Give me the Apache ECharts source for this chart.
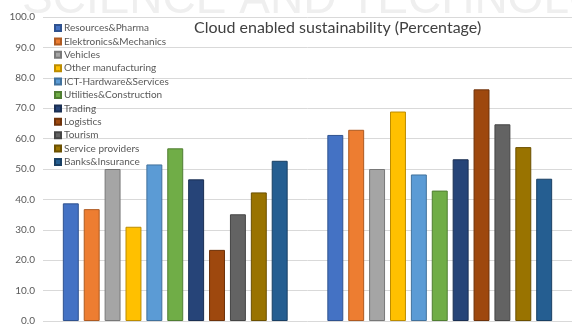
<!DOCTYPE html>
<html>
<head>
<meta charset="utf-8">
<script src="https://cdn.jsdelivr.net/npm/echarts@6/dist/echarts.min.js"></script>
<style>
  html, body { margin: 0; padding: 0; background: #fff; }
  #chart { width: 572px; height: 327px; }
</style>
</head>
<body>
<div id="chart"></div>
<script>
// two groups of bars, no x labels shown in the picture
const groups = ['Group 1', 'Group 2'];
const sectors = ['Resources&Pharma', 'Elektronics&Mechanics', 'Vehicles', 'Other manufacturing',
  'ICT-Hardware&Services', 'Utilities&Construction', 'Trading', 'Logistics', 'Tourism',
  'Service providers', 'Banks&Insurance'];
const group1Values = [38.7, 36.8, 50.0, 31.0, 51.5, 56.8, 46.6, 23.4, 35.1, 42.3, 52.7];
const group2Values = [61.2, 62.9, 50.0, 68.9, 48.2, 42.9, 53.2, 76.2, 64.7, 57.2, 46.8];
const yTicks = [0, 100, 10];

// excel-like palette, fill and darker outline
const fills = ['#4472C4', '#ED7D31', '#A5A5A5', '#FFC000', '#5B9BD5', '#70AD47',
  '#264478', '#9E480E', '#636363', '#997300', '#255E91'];
const outlines = ['#2F528F', '#AE5A21', '#787878', '#BC8C00', '#41719C', '#507E32',
  '#1A2F53', '#6E320A', '#454545', '#6B5000', '#193F63'];

let myChart = echarts.init(document.getElementById('chart'));

let series = sectors.map(function (name, i) {
  return {
    name: name,
    type: 'bar',
    data: [group1Values[i], group2Values[i]],
    barGap: '31%',
    barCategoryGap: '15%',
    itemStyle: {
      color: fills[i],
      borderColor: outlines[i],
      borderWidth: 1
    }
  };
});

myChart.setOption({
  animation: false,
  backgroundColor: '#fff',
  textStyle: { fontFamily: 'Lato' },
  // faint publisher watermark across the top
  graphic: [{
    type: 'text',
    z: -10,
    silent: true,
    style: {
      x: 22,
      y: 0,
      text: 'SCIENCE AND TECHNOLOGY',
      fill: '#efefef',
      font: 'normal 46px "Liberation Sans"',
      verticalAlign: 'middle'
    }
  }],
  title: {
    text: 'Cloud enabled sustainability (Percentage)',
    left: 194,
    top: 20,
    padding: 0,
    textStyle: {
      fontFamily: 'Lato',
      fontSize: 16,
      fontWeight: 'normal',
      color: '#404040'
    }
  },
  legend: {
    orient: 'vertical',
    left: 54,
    top: 22,
    padding: 0,
    icon: 'rect',
    itemWidth: 6,
    itemHeight: 6,
    itemGap: 1.4,
    textStyle: {
      fontFamily: 'Lato',
      fontSize: 10,
      lineHeight: 12,
      color: '#595959',
      padding: [0, 0, 0, -2]
    },
    data: sectors
  },
  grid: {
    left: 43,
    right: -3,
    top: 17,
    bottom: 6
  },
  xAxis: {
    type: 'category',
    data: groups,
    axisLine: { show: false },
    axisTick: { show: false },
    axisLabel: { show: false }
  },
  yAxis: {
    type: 'value',
    min: yTicks[0],
    max: yTicks[1],
    interval: yTicks[2],
    axisLine: { show: false },
    axisTick: { show: false },
    axisLabel: {
      margin: 8,
      fontFamily: 'Lato',
      fontSize: 10,
      color: '#595959',
      formatter: function (v) { return v.toFixed(1); }
    },
    splitLine: { lineStyle: { color: '#d9d9d9', width: 1 } }
  },
  series: series
});
</script>
</body>
</html>
